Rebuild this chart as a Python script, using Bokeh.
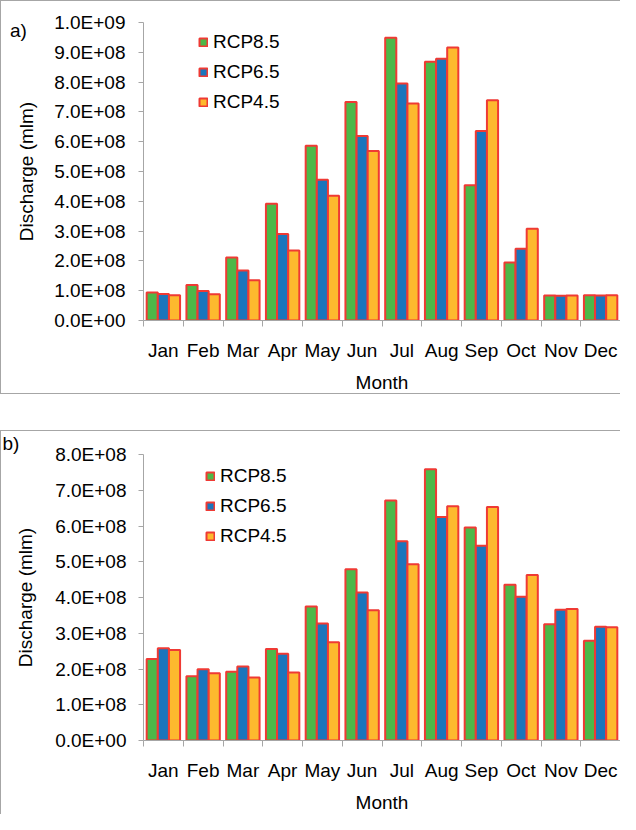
from bokeh.plotting import figure
from bokeh.models import FixedTicker, Legend, LegendItem, Label, ColumnDataSource
from bokeh.layouts import column
from bokeh.embed import file_html
from bokeh.resources import INLINE
from bokeh.transform import dodge

months = ["Jan", "Feb", "Mar", "Apr", "May", "Jun", "Jul", "Aug", "Sep", "Oct", "Nov", "Dec"]
series_names = ["RCP8.5", "RCP6.5", "RCP4.5"]

# Panel a) discharge (mlm)
a_rcp85 = [0.94e8, 1.19e8, 2.11e8, 3.92e8, 5.86e8, 7.33e8, 9.49e8, 8.68e8, 4.54e8, 1.95e8, 0.84e8, 0.85e8]
a_rcp65 = [0.89e8, 0.99e8, 1.68e8, 2.90e8, 4.72e8, 6.19e8, 7.95e8, 8.78e8, 6.36e8, 2.41e8, 0.83e8, 0.84e8]
a_rcp45 = [0.85e8, 0.88e8, 1.35e8, 2.35e8, 4.19e8, 5.69e8, 7.28e8, 9.16e8, 7.39e8, 3.08e8, 0.84e8, 0.85e8]

# Panel b) discharge (mlm)
b_rcp85 = [2.28e8, 1.80e8, 1.92e8, 2.56e8, 3.75e8, 4.79e8, 6.71e8, 7.59e8, 5.96e8, 4.36e8, 3.25e8, 2.79e8]
b_rcp65 = [2.58e8, 1.99e8, 2.07e8, 2.43e8, 3.27e8, 4.14e8, 5.57e8, 6.25e8, 5.45e8, 4.02e8, 3.66e8, 3.18e8]
b_rcp45 = [2.53e8, 1.88e8, 1.76e8, 1.90e8, 2.75e8, 3.64e8, 4.93e8, 6.55e8, 6.53e8, 4.63e8, 3.68e8, 3.17e8]

a_yticks = [i * 1e8 for i in range(11)]
b_yticks = [i * 1e8 for i in range(9)]

colors = ["#4db848", "#1b75bc", "#fdb92e"]
edge = "#ef3a34"
axis_gray = "#a6a6a6"
FONT = "Liberation Sans"


def make_panel(tag, vals, yticks, height, left, top, bottom, frame_w, legend_xy, tag_xy,
               ylab_standoff, ytitle_standoff, border_bottom):
    ymax = yticks[-1]
    p = figure(width=620, height=height, x_range=(0, 12), y_range=(0, ymax),
               output_backend="svg", toolbar_location=None,
               min_border_left=left, min_border_right=620 - left - frame_w,
               min_border_top=top, min_border_bottom=bottom)
    styles = {"border-top": "1.5px solid #a6a6a6", "border-left": "1.5px solid #a6a6a6"}
    if border_bottom:
        styles["border-bottom"] = "1.5px solid #a6a6a6"
    p.styles = styles
    p.outline_line_color = None
    p.xgrid.visible = False
    p.ygrid.visible = False
    p.background_fill_color = "white"

    centers = [i + 0.5 for i in range(len(months))]
    data = {"x": centers}
    keys = ["s0", "s1", "s2"]
    for k, v in zip(keys, vals):
        data[k] = v
    src = ColumnDataSource(data)
    offsets = [-0.28, 0.0, 0.28]
    items = []
    for k, off, c, name in zip(keys, offsets, colors, series_names):
        r = p.vbar(x=dodge("x", off), top=k, width=0.28, source=src,
                   fill_color=c, line_color=edge, line_width=2)
        items.append(LegendItem(label=name, renderers=[r]))

    # x axis: labels at centres, ticks at category boundaries
    xa = p.xaxis[0]
    xa.ticker = FixedTicker(ticks=centers, minor_ticks=list(range(13)))
    xa.major_label_overrides = {c: m for c, m in zip(centers, months)}
    xa.major_tick_out = 0
    xa.major_tick_in = 0
    xa.minor_tick_out = 6
    xa.minor_tick_in = 0
    xa.minor_tick_line_color = axis_gray
    xa.axis_line_color = axis_gray
    xa.major_label_standoff = 13
    xa.major_label_text_font = FONT
    xa.major_label_text_font_size = "19px"
    xa.major_label_text_color = "black"
    xa.axis_label = "Month"
    xa.axis_label_text_font = FONT
    xa.axis_label_text_font_size = "19px"
    xa.axis_label_text_font_style = "normal"
    xa.axis_label_text_color = "black"
    xa.axis_label_standoff = 8

    ya = p.yaxis[0]
    ya.ticker = FixedTicker(ticks=yticks, minor_ticks=[])
    ya.major_label_overrides = {int(t): f"{t:.1E}" for t in yticks}
    ya.major_tick_out = 5
    ya.major_tick_in = 0
    ya.major_tick_line_color = axis_gray
    ya.axis_line_color = axis_gray
    ya.major_label_standoff = ylab_standoff
    ya.major_label_text_font = FONT
    ya.major_label_text_font_size = "19px"
    ya.major_label_text_color = "black"
    ya.axis_label = "Discharge (mlm)"
    ya.axis_label_text_font = FONT
    ya.axis_label_text_font_size = "19px"
    ya.axis_label_text_font_style = "normal"
    ya.axis_label_text_color = "black"
    ya.axis_label_standoff = ytitle_standoff

    legend = Legend(items=items, location=legend_xy, orientation="vertical",
                    padding=0, margin=0, spacing=8,
                    glyph_width=10, glyph_height=10, label_height=22,
                    label_standoff=5, label_text_font=FONT,
                    label_text_font_size="19px", label_text_color="black",
                    border_line_color=None, background_fill_alpha=0)
    p.add_layout(legend, "center")

    # panel tag: placed in a side panel so that it is not clipped to the frame
    p.add_layout(Label(x=tag_xy[0], y=tag_xy[1], text=tag, text_font=FONT,
                       text_font_size="19px", text_color="black",
                       text_baseline="middle", text_align="left"), "above")
    return p


p1 = make_panel("a)", [a_rcp85, a_rcp65, a_rcp45], a_yticks, 394, 139, 19, 67, 480,
                (55, 207), (-3.36, 0.972e9), 13, 14, True)
p2 = make_panel("b)", [b_rcp85, b_rcp65, b_rcp45], b_yticks, 384, 142, 23, 68, 477,
                (62, 193), (-3.55, 8.30e8), 12, 16, False)

layout = column(p1, p2, spacing=36)
open("out.html", "w").write(file_html(layout, INLINE))
